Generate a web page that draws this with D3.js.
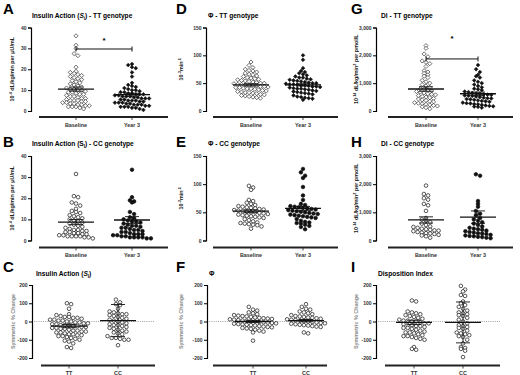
<!DOCTYPE html>
<html>
<head>
<meta charset="utf-8">
<script src="https://cdnjs.cloudflare.com/ajax/libs/d3/7.8.5/d3.min.js"></script>
<style>
  body { margin: 0; background: #fff; }
  svg { font-family: "Liberation Sans", Arial, sans-serif; }
</style>
</head>
<body>
<div class="svg-container"></div>
<script>
// ---- data ----
var timeGroups = ['Baseline', 'Year 3'];
var genoGroups = ['TT', 'CC'];

var siTicks = [0, 10, 20, 30, 40];
var phiTicks = [0, 50, 100, 150];
var diTicks = [0, 1000, 2000, 3000];
var changeTicks = [-200, -100, 0, 100, 200];

// A: insulin action, TT
var siTTBase = [36, 31.5, 30, 27.5, 26.5, 21, 19, 18.5, 18, 17.5, 17, 16.5, 16, 15.5, 15, 14.5, 14, 13.5, 13, 12.5, 12, 11.5, 11, 10.5, 10.5, 10, 10, 9.5, 9, 9, 8.5, 8, 8, 7.5, 7, 7, 6.5, 6, 6, 5.5, 5, 5, 5, 4.5, 4.5, 4, 4, 3.5, 3.5, 3, 3, 2.5, 2.5, 2, 2, 2, 1.5, 1];
var siTTYear3 = [22.5, 22, 21, 20.5, 18.5, 16.5, 13.5, 12.5, 12, 11.5, 11, 10.5, 10, 10, 9.5, 9, 9, 8.5, 8.5, 8, 8, 8, 7.5, 7.5, 7, 7, 7, 6.5, 6.5, 6, 6, 6, 5.5, 5.5, 5, 5, 5, 4.5, 4.5, 4, 4, 4, 3.5, 3.5, 3, 3, 3, 2.5, 2.5, 2, 2, 2, 1.5, 1.5, 1, 0.5];
var siTTMean = [10.5, 7.8];
var siTTErr = [1.0, 0.7];

// B: insulin action, CC
var siCCBase = [31.5, 21, 20.5, 18, 17.5, 16.5, 15, 14, 13.5, 13, 12, 11.5, 11, 10.5, 10, 9.5, 9, 8.5, 8, 7.5, 7, 6.5, 6, 5.5, 5, 5, 4.5, 4.5, 4, 4, 3.5, 3.5, 3, 3, 2.5, 2.5, 2, 2, 2, 2, 1.5, 1.5, 1];
var siCCYear3 = [33.5, 20.5, 19, 18.5, 18, 13.5, 12.5, 11, 10.5, 10, 9.5, 9, 9, 8.5, 8, 7.5, 7, 7, 6.5, 6, 6, 5.5, 5, 5, 4.5, 4, 4, 3.5, 3, 3, 3, 2.5, 2.5, 2, 2, 1.5, 1.5, 1.5, 1.5, 1, 1];
var siCCMean = [8.7, 9.7];
var siCCErr = [1.2, 1.6];

// C: insulin action, symmetric % change
var siChgTT = [100, 95, 70, 40, 35, 30, 25, 25, 20, 20, 15, 10, 10, 5, 5, 0, 0, -5, -5, -10, -10, -15, -15, -20, -20, -20, -25, -25, -30, -30, -35, -35, -40, -40, -45, -50, -50, -55, -55, -60, -60, -65, -70, -70, -75, -75, -80, -80, -85, -90, -95, -100, -105, -110, -120, -140, -145];
var siChgCC = [120, 105, 95, 90, 70, 55, 50, 45, 40, 40, 35, 30, 25, 20, 15, 10, 5, 0, -5, -10, -15, -20, -20, -25, -30, -35, -40, -45, -50, -55, -60, -65, -70, -80, -90, -90, -95, -100, -100, -130];
var siChgMean = [-25, 5];
var siChgErr = [9, 88];

// D: phi, TT
var phiTTBase = [88, 82, 78, 75, 73, 72, 70, 68, 66, 65, 63, 62, 60, 59, 58, 57, 56, 55, 54, 53, 52, 51, 50, 50, 49, 48, 48, 47, 46, 46, 45, 44, 44, 43, 42, 42, 41, 40, 40, 39, 38, 37, 36, 35, 34, 33, 33, 32, 31, 30, 29, 28, 27, 26, 25, 24, 23];
var phiTTYear3 = [100, 92, 77, 72, 70, 68, 66, 64, 62, 60, 60, 58, 57, 56, 55, 54, 53, 52, 51, 50, 50, 49, 48, 48, 47, 46, 46, 45, 44, 44, 43, 42, 41, 40, 40, 39, 38, 37, 36, 35, 34, 33, 32, 31, 30, 28, 26, 25, 24, 23, 22, 20];
var phiTTMean = [47, 47];
var phiTTErr = [2, 2];

// E: phi, CC
var phiCCBase = [97, 94, 90, 72, 70, 67, 65, 63, 61, 60, 59, 58, 57, 56, 55, 54, 53, 52, 51, 50, 50, 49, 48, 47, 46, 45, 44, 43, 42, 41, 40, 38, 36, 34, 32, 31, 30, 29, 28, 27, 25, 21];
var phiCCYear3 = [127, 121, 115, 111, 95, 80, 72, 65, 63, 61, 60, 59, 58, 57, 56, 55, 54, 53, 52, 51, 50, 49, 48, 47, 46, 45, 44, 43, 42, 41, 40, 38, 35, 33, 32, 31, 30, 28, 26, 24, 20];
var phiCCMean = [52, 57];
var phiCCErr = [2.5, 3.5];

// F: phi, symmetric % change
var phiChgTT = [80, 65, 60, 50, 45, 40, 35, 32, 30, 28, 25, 22, 20, 18, 16, 14, 12, 10, 8, 6, 4, 2, 0, -2, -4, -6, -8, -10, -12, -14, -16, -18, -20, -22, -25, -28, -30, -32, -35, -38, -40, -45, -50, -55, -60, -105];
var phiChgCC = [95, 80, 70, 65, 55, 50, 45, 40, 35, 30, 28, 25, 22, 20, 18, 15, 12, 10, 8, 5, 2, 0, -2, -5, -8, -10, -12, -15, -18, -20, -22, -25, -28, -30, -60, -65];
var phiChgMean = [0, 5];
var phiChgErr = [5, 6];

// G: disposition index, TT
var diTTBase = [2350, 2250, 2050, 1950, 1800, 1750, 1700, 1600, 1450, 1400, 1350, 1300, 1250, 1200, 1100, 1050, 1000, 950, 900, 850, 800, 780, 750, 720, 700, 680, 650, 620, 600, 580, 550, 520, 500, 480, 450, 430, 400, 380, 350, 330, 300, 280, 260, 240, 220, 200, 180, 150, 120, 80];
var diTTYear3 = [1650, 1500, 1400, 1300, 1250, 1200, 1100, 1050, 1000, 950, 900, 850, 800, 780, 750, 700, 680, 650, 630, 620, 600, 590, 580, 560, 550, 540, 520, 500, 480, 460, 450, 430, 420, 400, 380, 360, 350, 330, 300, 280, 270, 250, 240, 220, 200, 180, 170, 160, 150, 120];
var diTTMean = [790, 620];
var diTTErr = [80, 60];

// H: disposition index, CC
var diCCBase = [1950, 1650, 1600, 1500, 1450, 1300, 1250, 1050, 800, 750, 700, 650, 600, 550, 500, 480, 450, 420, 400, 380, 360, 350, 330, 300, 280, 260, 250, 230, 200, 180, 150, 100];
var diCCYear3 = [2350, 2300, 1400, 1300, 1200, 1050, 950, 900, 800, 750, 700, 650, 600, 550, 500, 450, 420, 400, 380, 350, 330, 300, 280, 260, 250, 230, 200, 180, 160, 150, 130, 120, 100, 80];
var diCCMean = [730, 830];
var diCCErr = [110, 220];

// I: disposition index, symmetric % change
var diChgTT = [115, 110, 55, 50, 45, 40, 35, 30, 25, 20, 15, 10, 5, 5, 0, 0, -5, -10, -10, -15, -20, -20, -25, -25, -30, -35, -35, -40, -45, -50, -55, -60, -60, -65, -70, -75, -80, -80, -85, -90, -95, -100, -140, -150, -155];
var diChgCC = [195, 175, 165, 145, 140, 110, 100, 90, 80, 70, 60, 50, 45, 40, 35, 30, 20, 10, 0, -10, -20, -25, -30, -35, -40, -50, -60, -65, -70, -75, -80, -85, -100, -120, -140, -145, -150, -160, -195];
var diChgMean = [-5, -5];
var diChgErr = [12, 112];

// ---- layout ----
var width = 520;
var height = 375;

var cols = [
  { axisX: 31, lineX: [39, 168], centers: [76, 132], labelX: 14, letterX: 3, titleX: 32 },
  { axisX: 206, lineX: [213, 338], centers: [251, 303], labelX: 183, letterX: 176, titleX: 208 },
  { axisX: 376, lineX: [388, 513], centers: [426, 478], labelX: 358, letterX: 351, titleX: 381 }
];
var cols3 = [
  { axisX: 32, lineX: [41, 155], centers: [69, 118], labelX: 15, letterX: 3, titleX: 36 },
  { axisX: 207, lineX: [213, 327], centers: [253, 306], labelX: 183, letterX: 176, titleX: 209 },
  { axisX: 376, lineX: [385, 500], centers: [414, 463], labelX: 358, letterX: 351, titleX: 378 }
];
var rows = [
  { yTop: 27.5, yBottom: 111, lineY: 117, tickY: 127, letterY: 14, titleY: 18 },
  { yTop: 156, yBottom: 240.5, lineY: 247.5, tickY: 257, letterY: 147, titleY: 146 },
  { yTop: 285, yBottom: 358, lineY: 365.5, tickY: 374.5, letterY: 272, titleY: 276 }
];

var siLabel = [['10', false], ['-4', 'sup'], [' dL/kg/min per \u03bcU/mL', false]];
var phiLabel = [['10', false], ['-3', 'sup'], ['min', false], ['-1', 'sup']];
var diLabel = [['10', false], ['-14', 'sup'], [' dL/kg/min', false], ['2', 'sup'], [' per pmol/L', false]];
var chgLabel = [['Symmetric % Change', false]];

var commaFmt = d3.format(',');

var panels = [
  { letter: 'A', col: 0, row: 0, title: [['Insulin Action (', false], ['S', 'it'], ['i', 'sub'], [') - TT genotype', false]],
    cats: timeGroups, data: [siTTBase, siTTYear3], mean: siTTMean, err: siTTErr, ticks: siTicks, fmt: String,
    shapes: ['openDiamond', 'filledDiamond'], ylabel: siLabel, bracket: { y: 29.7, star: 34 } },
  { letter: 'B', col: 0, row: 1, title: [['Insulin Action (S', false], ['I', 'sub'], [') - CC genotype', false]],
    cats: timeGroups, data: [siCCBase, siCCYear3], mean: siCCMean, err: siCCErr, ticks: siTicks, fmt: String,
    shapes: ['openCircle', 'filledCircle'], ylabel: siLabel },
  { letter: 'C', col: 0, row: 2, title: [['Insulin Action (', false], ['S', 'it'], ['I', 'sub'], [')', false]],
    cats: genoGroups, data: [siChgTT, siChgCC], mean: siChgMean, err: siChgErr, ticks: changeTicks, fmt: String,
    shapes: ['openCircle', 'openCircle'], ylabel: chgLabel, zero: true },
  { letter: 'D', col: 1, row: 0, title: [['\u03a6 - TT genotype', false]],
    cats: timeGroups, data: [phiTTBase, phiTTYear3], mean: phiTTMean, err: phiTTErr, ticks: phiTicks, fmt: String,
    shapes: ['openDiamond', 'filledDiamond'], ylabel: phiLabel },
  { letter: 'E', col: 1, row: 1, title: [['\u03a6 - CC genotype', false]],
    cats: timeGroups, data: [phiCCBase, phiCCYear3], mean: phiCCMean, err: phiCCErr, ticks: phiTicks, fmt: String,
    shapes: ['openCircle', 'filledCircle'], ylabel: phiLabel },
  { letter: 'F', col: 1, row: 2, title: [['\u03a6', false]],
    cats: genoGroups, data: [phiChgTT, phiChgCC], mean: phiChgMean, err: phiChgErr, ticks: changeTicks, fmt: String,
    shapes: ['openCircle', 'openCircle'], ylabel: chgLabel, zero: true },
  { letter: 'G', col: 2, row: 0, title: [['DI - TT genotype', false]],
    cats: timeGroups, data: [diTTBase, diTTYear3], mean: diTTMean, err: diTTErr, ticks: diTicks, fmt: commaFmt,
    shapes: ['openDiamond', 'filledDiamond'], ylabel: diLabel, bracket: { y: 1870, star: 2620 } },
  { letter: 'H', col: 2, row: 1, title: [['DI - CC genotype', false]],
    cats: timeGroups, data: [diCCBase, diCCYear3], mean: diCCMean, err: diCCErr, ticks: diTicks, fmt: commaFmt,
    shapes: ['openCircle', 'filledCircle'], ylabel: diLabel },
  { letter: 'I', col: 2, row: 2, title: [['Disposition Index', false]],
    cats: genoGroups, data: [diChgTT, diChgCC], mean: diChgMean, err: diChgErr, ticks: changeTicks, fmt: String,
    shapes: ['openCircle', 'openCircle'], ylabel: chgLabel, zero: true }
];

var svg = d3.select('.svg-container')
  .append('svg')
  .attr('width', width)
  .attr('height', height);

// Adds text runs with superscript / subscript / italic pieces
function addRuns(text, runs, size) {
  var shift = 0;
  runs.forEach(function(r) {
    var t = text.append('tspan').text(r[0]);
    var target = 0;
    if (r[1] === 'sup') {
      t.attr('font-size', size * 0.7);
      target = -size * 0.35;
    } else if (r[1] === 'sub') {
      t.attr('font-size', size * 0.7);
      target = size * 0.25;
    } else if (r[1] === 'it') {
      t.attr('font-style', 'italic');
    }
    if (target - shift !== 0) t.attr('dy', target - shift);
    shift = target;
  });
}

// GraphPad-like scatter: bin by pixel row, spread each row sideways
function swarm(values, yScale, cx, diam) {
  var bins = d3.group(values.slice().sort(d3.descending), function(v) {
    return Math.floor(yScale(v) / diam);
  });
  var placed = [];
  bins.forEach(function(vals) {
    var n = vals.length;
    vals.forEach(function(v, j) {
      placed.push({ x: cx + (j - (n - 1) / 2) * diam, y: yScale(v), v: v });
    });
  });
  return placed;
}

var diamondPath = d3.symbol().type(d3.symbolDiamond2).size(11)();
var diamondSmall = d3.symbol().type(d3.symbolDiamond2).size(9)();

panels.forEach(function(p) {
  var c = p.row === 2 ? cols3[p.col] : cols[p.col];
  var r = rows[p.row];
  var g = svg.append('g');

  var yScale = d3.scaleLinear()
    .domain(d3.extent(p.ticks))
    .range([r.yBottom, r.yTop]);

  var xScale = d3.scalePoint()
    .domain(p.cats)
    .range(c.centers);

  // letter
  g.append('text')
    .attr('x', c.letterX)
    .attr('y', r.letterY)
    .attr('font-size', 15)
    .attr('font-weight', 'bold')
    .text(p.letter);

  // title
  var title = g.append('text')
    .attr('x', c.titleX)
    .attr('y', r.titleY)
    .attr('font-size', 6.6)
    .attr('font-weight', 'bold');
  addRuns(title, p.title, 6.6);

  // zero line
  if (p.zero) {
    g.append('line')
      .attr('x1', c.axisX).attr('x2', c.lineX[1])
      .attr('y1', yScale(0)).attr('y2', yScale(0))
      .attr('stroke', '#888')
      .attr('stroke-width', 0.8)
      .attr('stroke-dasharray', '1,1.2');
  }

  // y axis
  var yAxis = d3.axisLeft(yScale)
    .tickValues(p.ticks)
    .tickSize(3)
    .tickPadding(1.5)
    .tickFormat(p.fmt);
  var ya = g.append('g')
    .attr('transform', 'translate(' + c.axisX + ',0)')
    .call(yAxis);
  ya.select('.domain').attr('stroke-width', 1.2);
  ya.selectAll('.tick line').attr('stroke-width', 1);
  ya.selectAll('text')
    .attr('font-size', 5)
    .attr('font-family', '"Liberation Sans", Arial, sans-serif')
    .attr('font-weight', 'bold')
    .attr('fill', '#333');

  // y label
  var yl = g.append('text')
    .attr('transform', 'translate(' + c.labelX + ',' + ((r.yTop + r.yBottom) / 2) + ') rotate(-90)')
    .attr('text-anchor', 'middle')
    .attr('font-size', 5.4)
    .attr('font-weight', 'bold')
    .attr('fill', p.zero ? '#888' : '#222');
  addRuns(yl, p.ylabel, 5.4);

  // x axis line and ticks
  g.append('line')
    .attr('x1', c.lineX[0]).attr('x2', c.lineX[1])
    .attr('y1', r.lineY).attr('y2', r.lineY)
    .attr('stroke', '#222')
    .attr('stroke-width', 1.8);
  g.selectAll('.xtick')
    .data(p.cats)
    .enter()
    .append('line')
    .attr('x1', function(d) { return xScale(d); })
    .attr('x2', function(d) { return xScale(d); })
    .attr('y1', r.lineY)
    .attr('y2', r.lineY + 3)
    .attr('stroke', '#222')
    .attr('stroke-width', 0.8);
  g.selectAll('.xlab')
    .data(p.cats)
    .enter()
    .append('text')
    .attr('x', function(d) { return xScale(d); })
    .attr('y', r.tickY)
    .attr('text-anchor', 'middle')
    .attr('font-size', 5.4)
    .attr('font-weight', 'bold')
    .attr('fill', '#333')
    .text(function(d) { return d; });

  // points
  p.data.forEach(function(vals, i) {
    var shape = p.shapes[i];
    var pts = swarm(vals, yScale, xScale(p.cats[i]), shape.indexOf('Circle') >= 0 ? 4.2 : 3.8);
    var sel = g.selectAll('.pt' + i)
      .data(pts)
      .enter();
    if (shape === 'openCircle' || shape === 'filledCircle') {
      sel.append('circle')
        .attr('cx', function(d) { return d.x; })
        .attr('cy', function(d) { return d.y; })
        .attr('r', 1.8)
        .attr('fill', shape === 'openCircle' ? '#fff' : '#111')
        .attr('stroke', '#111')
        .attr('stroke-width', 0.7);
    } else {
      sel.append('path')
        .attr('transform', function(d) { return 'translate(' + d.x + ',' + d.y + ')'; })
        .attr('d', shape === 'openDiamond' ? diamondPath : diamondSmall)
        .attr('fill', shape === 'openDiamond' ? '#fff' : '#111')
        .attr('stroke', '#111')
        .attr('stroke-width', 0.6);
    }
  });

  // mean and error bars
  p.cats.forEach(function(cat, i) {
    var cx = xScale(cat);
    var m = p.mean[i], e = p.err[i];
    g.append('line')
      .attr('x1', cx - 18).attr('x2', cx + 18)
      .attr('y1', yScale(m)).attr('y2', yScale(m))
      .attr('stroke', '#111').attr('stroke-width', 1.3);
    g.append('line')
      .attr('x1', cx).attr('x2', cx)
      .attr('y1', yScale(m - e)).attr('y2', yScale(m + e))
      .attr('stroke', '#111').attr('stroke-width', 0.9);
    [m - e, m + e].forEach(function(v) {
      g.append('line')
        .attr('x1', cx - 7).attr('x2', cx + 7)
        .attr('y1', yScale(v)).attr('y2', yScale(v))
        .attr('stroke', '#111').attr('stroke-width', 0.9);
    });
  });

  // significance bracket
  if (p.bracket) {
    var by = yScale(p.bracket.y);
    var x1 = xScale(p.cats[0]), x2 = xScale(p.cats[1]);
    g.append('line')
      .attr('x1', x1).attr('x2', x2)
      .attr('y1', by).attr('y2', by)
      .attr('stroke', '#111').attr('stroke-width', 1);
    [x1, x2].forEach(function(x) {
      g.append('line')
        .attr('x1', x).attr('x2', x)
        .attr('y1', by - 2.5).attr('y2', by + 2.5)
        .attr('stroke', '#111').attr('stroke-width', 1);
    });
    g.append('text')
      .attr('x', (x1 + x2) / 2)
      .attr('y', yScale(p.bracket.star) + 3)
      .attr('text-anchor', 'middle')
      .attr('font-size', 8)
      .attr('font-weight', 'bold')
      .text('*');
  }
});
</script>
</body>
</html>
